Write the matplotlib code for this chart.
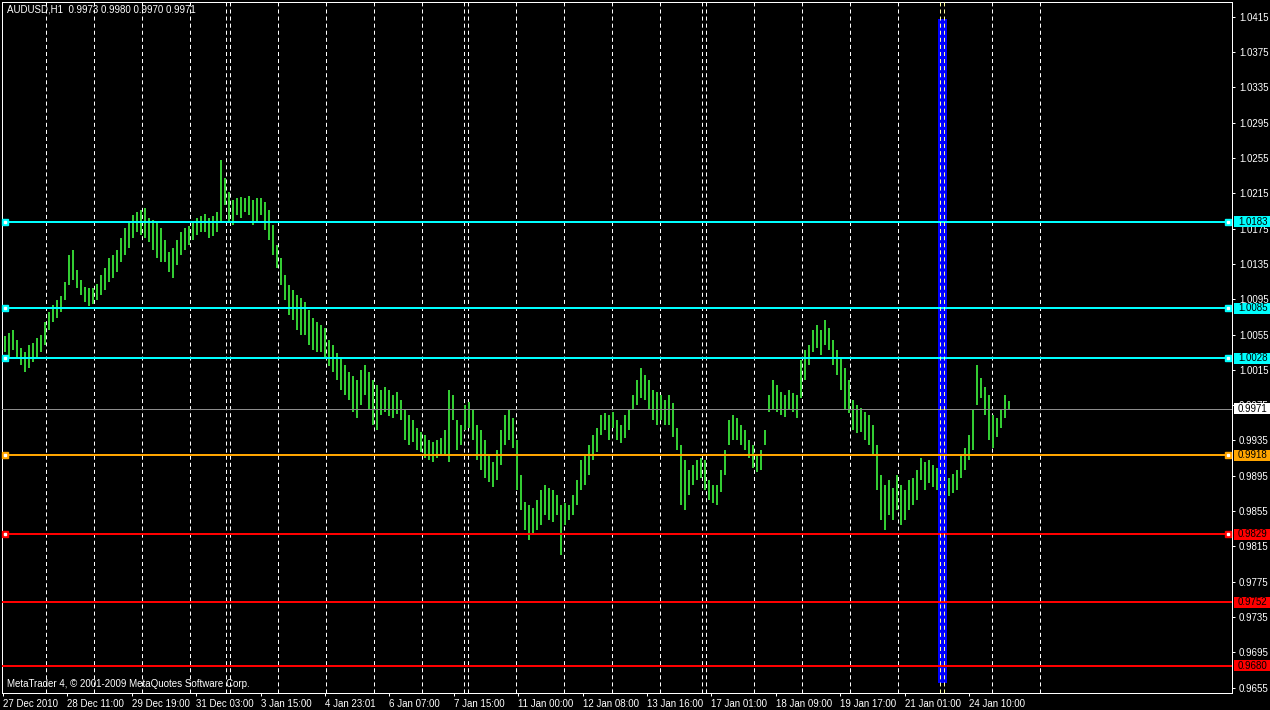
import numpy as np
import matplotlib
matplotlib.use("Agg")
import matplotlib.pyplot as plt
from matplotlib.patches import Rectangle
import matplotlib.transforms as mtransforms

plt.rcParams['font.family'] = ['Liberation Sans', 'DejaVu Sans']
plt.rcParams['lines.scale_dashes'] = False

# ---------------- data ----------------
symbol_info = "AUDUSD,H1  0.9973 0.9980 0.9970 0.9971"
copyright_text = "MetaTrader 4, \u00a9 2001-2009 MetaQuotes Software Corp."

bar_high = [
    1.0053, 1.0057, 1.0060, 1.0049, 1.0040, 1.0035, 1.0043, 1.0045, 1.0051, 1.0055,
    1.0069, 1.0081, 1.0089, 1.0094, 1.0099, 1.0115, 1.0145, 1.0151, 1.0128, 1.0117,
    1.0109, 1.0108, 1.0108, 1.0112, 1.0122, 1.0130, 1.0142, 1.0145, 1.0151, 1.0164,
    1.0176, 1.0183, 1.0190, 1.0194, 1.0196, 1.0198, 1.0187, 1.0185, 1.0183, 1.0176,
    1.0162, 1.0149, 1.0153, 1.0162, 1.0171, 1.0176, 1.0178, 1.0183, 1.0187, 1.0189,
    1.0192, 1.0187, 1.0189, 1.0194, 1.0253, 1.0232, 1.0216, 1.0207, 1.0210, 1.0211,
    1.0210, 1.0212, 1.0207, 1.0210, 1.0210, 1.0205, 1.0196, 1.0179, 1.0156, 1.0142,
    1.0122, 1.0111, 1.0105, 1.0100, 1.0096, 1.0092, 1.0083, 1.0074, 1.0069, 1.0066,
    1.0062, 1.0049, 1.0043, 1.0034, 1.0028, 1.0021, 1.0013, 1.0008, 1.0004, 1.0015,
    1.0021, 1.0013, 1.0004, 0.9998, 0.9992, 0.9995, 0.9992, 0.9987, 0.9990, 0.9981,
    0.9970, 0.9964, 0.9958, 0.9949, 0.9945, 0.9941, 0.9936, 0.9933, 0.9936, 0.9938,
    0.9947, 0.9992, 0.9987, 0.9958, 0.9953, 0.9975, 0.9979, 0.9970, 0.9953, 0.9947,
    0.9936, 0.9919, 0.9911, 0.9924, 0.9947, 0.9964, 0.9970, 0.9961, 0.9936, 0.9896,
    0.9865, 0.9862, 0.9859, 0.9868, 0.9879, 0.9885, 0.9881, 0.9879, 0.9873, 0.9862,
    0.9864, 0.9862, 0.9873, 0.9890, 0.9913, 0.9919, 0.9930, 0.9941, 0.9949, 0.9964,
    0.9966, 0.9964, 0.9967, 0.9958, 0.9953, 0.9964, 0.9970, 0.9987, 1.0004, 1.0017,
    1.0009, 1.0004, 0.9992, 0.9990, 0.9987, 0.9981, 0.9987, 0.9978, 0.9949, 0.9930,
    0.9913, 0.9902, 0.9907, 0.9913, 0.9915, 0.9913, 0.9890, 0.9885, 0.9885, 0.9902,
    0.9924, 0.9958, 0.9964, 0.9961, 0.9953, 0.9947, 0.9936, 0.9930, 0.9919, 0.9924,
    0.9947, 0.9987, 1.0004, 0.9998, 0.9990, 0.9987, 0.9992, 0.9989, 0.9987, 1.0026,
    1.0038, 1.0043, 1.0060, 1.0066, 1.0060, 1.0072, 1.0062, 1.0049, 1.0038, 1.0028,
    1.0017, 1.0004, 0.9981, 0.9975, 0.9972, 0.9967, 0.9964, 0.9953, 0.9930, 0.9896,
    0.9885, 0.9890, 0.9881, 0.9896, 0.9885, 0.9879, 0.9890, 0.9893, 0.9902, 0.9915,
    0.9911, 0.9913, 0.9907, 0.9904, 0.9907, 0.9896, 0.9893, 0.9897, 0.9902, 0.9919,
    0.9927, 0.9941, 0.9970, 1.0020, 1.0006, 0.9995, 0.9987, 0.9964, 0.9961, 0.9970,
    0.9987, 0.9980,
]
bar_low = [
    1.0035, 1.0028, 1.0038, 1.0028, 1.0021, 1.0013, 1.0017, 1.0024, 1.0028, 1.0035,
    1.0043, 1.0060, 1.0069, 1.0074, 1.0081, 1.0094, 1.0111, 1.0117, 1.0108, 1.0100,
    1.0092, 1.0087, 1.0090, 1.0094, 1.0100, 1.0105, 1.0115, 1.0119, 1.0126, 1.0137,
    1.0145, 1.0153, 1.0164, 1.0171, 1.0168, 1.0164, 1.0160, 1.0151, 1.0142, 1.0137,
    1.0137, 1.0126, 1.0119, 1.0134, 1.0145, 1.0151, 1.0156, 1.0162, 1.0168, 1.0171,
    1.0171, 1.0164, 1.0167, 1.0171, 1.0183, 1.0202, 1.0183, 1.0179, 1.0190, 1.0187,
    1.0194, 1.0190, 1.0179, 1.0183, 1.0190, 1.0173, 1.0162, 1.0145, 1.0130, 1.0111,
    1.0094, 1.0077, 1.0072, 1.0060, 1.0055, 1.0055, 1.0043, 1.0038, 1.0035, 1.0035,
    1.0028, 1.0019, 1.0013, 1.0004, 0.9992, 0.9987, 0.9981, 0.9967, 0.9961, 0.9975,
    0.9987, 0.9970, 0.9953, 0.9947, 0.9964, 0.9967, 0.9963, 0.9961, 0.9965, 0.9958,
    0.9936, 0.9930, 0.9933, 0.9924, 0.9922, 0.9915, 0.9913, 0.9911, 0.9915, 0.9919,
    0.9919, 0.9911, 0.9958, 0.9924, 0.9930, 0.9947, 0.9949, 0.9936, 0.9913, 0.9902,
    0.9893, 0.9888, 0.9882, 0.9890, 0.9907, 0.9930, 0.9936, 0.9927, 0.9879, 0.9856,
    0.9834, 0.9822, 0.9828, 0.9834, 0.9839, 0.9851, 0.9845, 0.9843, 0.9851, 0.9805,
    0.9839, 0.9845, 0.9851, 0.9862, 0.9879, 0.9885, 0.9896, 0.9913, 0.9922, 0.9941,
    0.9947, 0.9936, 0.9949, 0.9936, 0.9932, 0.9938, 0.9947, 0.9970, 0.9975, 0.9983,
    0.9981, 0.9970, 0.9958, 0.9953, 0.9958, 0.9953, 0.9953, 0.9939, 0.9924, 0.9862,
    0.9856, 0.9873, 0.9885, 0.9890, 0.9893, 0.9879, 0.9868, 0.9864, 0.9862, 0.9877,
    0.9896, 0.9930, 0.9936, 0.9936, 0.9930, 0.9924, 0.9915, 0.9904, 0.9899, 0.9902,
    0.9930, 0.9967, 0.9970, 0.9967, 0.9964, 0.9962, 0.9970, 0.9967, 0.9961, 0.9983,
    1.0004, 1.0021, 1.0035, 1.0040, 1.0032, 1.0043, 1.0038, 1.0021, 1.0009, 0.9992,
    0.9970, 0.9966, 0.9947, 0.9944, 0.9945, 0.9936, 0.9930, 0.9919, 0.9879, 0.9845,
    0.9834, 0.9851, 0.9845, 0.9856, 0.9839, 0.9845, 0.9856, 0.9862, 0.9868, 0.9890,
    0.9879, 0.9887, 0.9882, 0.9879, 0.9873, 0.9868, 0.9872, 0.9876, 0.9879, 0.9893,
    0.9902, 0.9913, 0.9924, 0.9975, 0.9983, 0.9964, 0.9936, 0.9927, 0.9939, 0.9949,
    0.9961, 0.9970,
]

price_ticks = [1.0415, 1.0375, 1.0335, 1.0295, 1.0255, 1.0215, 1.0175, 1.0135,
               1.0095, 1.0055, 1.0015, 0.9975, 0.9935, 0.9895, 0.9855, 0.9815,
               0.9775, 0.9735, 0.9695, 0.9655]
time_labels = ["27 Dec 2010", "28 Dec 11:00", "29 Dec 19:00", "31 Dec 03:00",
               "3 Jan 15:00", "4 Jan 23:01", "6 Jan 07:00", "7 Jan 15:00",
               "11 Jan 00:00", "12 Jan 08:00", "13 Jan 16:00", "17 Jan 01:00",
               "18 Jan 09:00", "19 Jan 17:00", "21 Jan 01:00", "24 Jan 10:00"]
grid_bars = [10.25, 22.25, 34.25, 46.25, 55.25, 56.25, 68.25, 80.25, 92.25,
             104.25, 114.75, 115.75, 127.75, 139.75, 151.75, 163.75, 174.25,
             175.25, 187.25, 199.25, 211.25, 223.25, 233.75, 234.75, 246.75,
             258.75]

resistance_levels = [1.0183, 1.0085, 1.0028]
pivot_levels = [0.9918]
support_levels = [0.9829, 0.9752, 0.9680]
handled_levels = [1.0183, 1.0085, 1.0028, 0.9918, 0.9829]
current_price = 0.9971

band_bars = (233.25, 235.5)
band_prices = (0.9660, 1.0412)

# ---------------- figure ----------------
W, H = 1270, 710
fig = plt.figure(figsize=(W / 100, H / 100), dpi=100, facecolor="black")
ax = fig.add_axes([2 / W, 17 / H, 1230 / W, 691 / H])
ax.set_facecolor("black")
ax.set_xlim(-0.625, 306.875)
ax.set_ylim(0.96490, 1.04316)

px_pt = 0.72  # one pixel in points

# grid
for g in grid_bars:
    inside = band_bars[0] < g < band_bars[1]
    ax.axvline(g, color="#FFFFA0" if inside else "white", lw=px_pt,
               dashes=(2.9, 2.2), zorder=3 if inside else 1)

# bars
idx = np.arange(len(bar_high))
ax.vlines(idx, bar_low, bar_high, color="#33CC33", lw=1.44, zorder=2)

# blue band
ax.add_patch(Rectangle((band_bars[0], band_prices[0]), band_bars[1] - band_bars[0],
                       band_prices[1] - band_prices[0], facecolor="#0000FF",
                       edgecolor="none", zorder=2.6))

# horizontal levels
def level(y, color):
    ax.axhline(y, color=color, lw=2 * px_pt, zorder=2.8)

for y in resistance_levels:
    level(y, "#00FFFF")
for y in pivot_levels:
    level(y, "#FFA500")
for y in support_levels:
    level(y, "#FF0000")
ax.axhline(current_price, color="#8C8C8C", lw=px_pt, zorder=2.7)

level_colors = {}
for y in resistance_levels:
    level_colors[y] = "#00FFFF"
for y in pivot_levels:
    level_colors[y] = "#FFA500"
for y in support_levels:
    level_colors[y] = "#FF0000"

btrans = mtransforms.blended_transform_factory(ax.transAxes, ax.transData)
for y in handled_levels:
    c = level_colors[y]
    for xa in (3 / 1230, 1226 / 1230):
        ax.plot([xa], [y], marker="s", ms=4.5, color=c, mec=c, transform=btrans,
                clip_on=False, zorder=4)
        ax.plot([xa], [y], marker="s", ms=1.6, color="white", mec="white",
                transform=btrans, clip_on=False, zorder=4.1)

# price labels on right axis
px_price = (1.04316 - 0.96490) / 691
def price_label(y, bg, fg="black"):
    ax.add_patch(Rectangle((1.0 + 2 / 1230, y - 5.5 * px_price), 37 / 1230, 11 * px_price,
                           transform=btrans, facecolor=bg, edgecolor="none",
                           clip_on=False, zorder=5))
    ax.text(1.0 + 6 / 1230, y, f"{y:.4f}", transform=btrans, color=fg,
            fontsize=7, va="center", ha="left", clip_on=False, zorder=6)

for y in resistance_levels:
    price_label(y, "#00FFFF")
for y in pivot_levels:
    price_label(y, "#FFA500")
for y in support_levels:
    price_label(y, "#FF0000")
price_label(current_price, "white")

# axes styling
for s in ax.spines.values():
    s.set_color("white")
    s.set_linewidth(px_pt)
ax.yaxis.tick_right()
ax.set_yticks(price_ticks)
ax.set_yticklabels([f"{p:.4f}" for p in price_ticks])
ax.tick_params(axis="y", colors="white", direction="out", length=2.5,
               width=px_pt, pad=2.5, labelsize=7)
label_bars = [-0.375 + 16.1 * k for k in range(len(time_labels))]
ax.set_xticks(label_bars)
ax.set_xticklabels(time_labels, ha="left")
ax.tick_params(axis="x", colors="white", direction="out", length=2.5,
               width=px_pt, pad=1.5, labelsize=7)

# texts
ax.text(5 / 1230, 1 - 8 / 691, symbol_info, transform=ax.transAxes,
        color="white", fontsize=7, va="center", ha="left")
ax.text(5 / 1230, 9 / 691, copyright_text, transform=ax.transAxes,
        color="white", fontsize=7, va="center", ha="left")

fig.savefig("out.png", dpi=100, facecolor="black")
